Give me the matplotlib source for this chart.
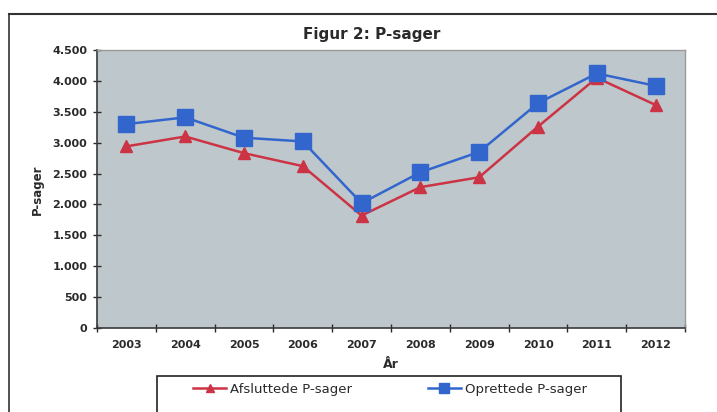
# Figur 2: P-sager, line chart with two series
import numpy as np
import matplotlib.pyplot as plt
from matplotlib.lines import Line2D
from matplotlib.patches import Rectangle
from matplotlib.ticker import FuncFormatter

years = ["2003", "2004", "2005", "2006", "2007", "2008", "2009", "2010", "2011", "2012"]
afsluttede = [2940, 3100, 2830, 2620, 1820, 2280, 2440, 3260, 4050, 3610]
oprettede = [3300, 3410, 3080, 3020, 2020, 2520, 2850, 3640, 4120, 3920]
y_ticks = [0, 500, 1000, 1500, 2000, 2500, 3000, 3500, 4000, 4500]

RED = "#cc3344"
BLUE = "#3366cc"
DARK = "#2a2a2a"

fig = plt.figure(figsize=(7.17, 4.12), dpi=100)
W, H = 717, 412

# outer frame lines (top and left visible)
fig.add_artist(Line2D([9 / W, 1], [1 - 14 / H] * 2, color="#333333", lw=1.5))
fig.add_artist(Line2D([9 / W] * 2, [0, 1 - 14 / H], color="#333333", lw=1.2))

ax = fig.add_axes([97 / W, 1 - 328 / H, 588 / W, 278 / H])
ax.set_facecolor("#bec8cc")

x = np.arange(len(years))
ax.plot(x, afsluttede, color=RED, lw=1.8, marker="^", ms=9, mec=RED, mfc=RED,
        label="Afsluttede P-sager", zorder=3)
ax.plot(x, oprettede, color=BLUE, lw=1.8, marker="s", ms=11, mec=BLUE, mfc=BLUE,
        label="Oprettede P-sager", zorder=3)

ax.set_xlim(-0.5, len(years) - 0.5)
ax.set_ylim(0, 4500)
ax.set_yticks(y_ticks)
ax.yaxis.set_major_formatter(FuncFormatter(lambda v, p: f"{v:,.0f}".replace(",", ".")))
ax.set_xticks(x)
ax.set_xticklabels(years)
ax.set_xticks(np.arange(-0.5, len(years), 1), minor=True)

ax.tick_params(axis="x", which="major", length=0, pad=9, labelsize=8, colors=DARK)
ax.tick_params(axis="x", which="minor", length=6, direction="inout", color=DARK, width=1)
ax.tick_params(axis="y", length=6, direction="inout", color=DARK, width=1, labelsize=8,
               labelcolor=DARK, pad=4)
for lab in ax.get_xticklabels() + ax.get_yticklabels():
    lab.set_fontweight("bold")

for s in ["left", "bottom"]:
    ax.spines[s].set_color("#3a3a3a")
    ax.spines[s].set_linewidth(1.2)
for s in ["top", "right"]:
    ax.spines[s].set_color("#9a9a9a")
    ax.spines[s].set_linewidth(1)

fig.text(372 / W, 1 - 35 / H, "Figur 2: P-sager", ha="center", va="center",
         fontsize=11, fontweight="bold", color=DARK)
fig.text(37 / W, 1 - 190 / H, "P-sager", ha="center", va="center", rotation=90,
         fontsize=8.5, fontweight="bold", color=DARK)
fig.text(391 / W, 1 - 364 / H, "År", ha="center", va="center",
         fontsize=9, fontweight="bold", color=DARK)

# legend box runs off the bottom of the image
fig.add_artist(Rectangle((157 / W, -0.1), (621 - 157) / W, 0.1 + 1 - 376 / H,
                         transform=fig.transFigure, fill=False, ec="#222222", lw=1.2))
h, l = ax.get_legend_handles_labels()
fig.legend(h, l, loc="center", bbox_to_anchor=(390 / W, 1 - 389 / H), ncol=2,
           frameon=False, fontsize=9.5, handlelength=2.5, markerscale=0.6,
           columnspacing=5.7, handletextpad=0.3, labelcolor=DARK)

fig.savefig("out.png", dpi=100)
